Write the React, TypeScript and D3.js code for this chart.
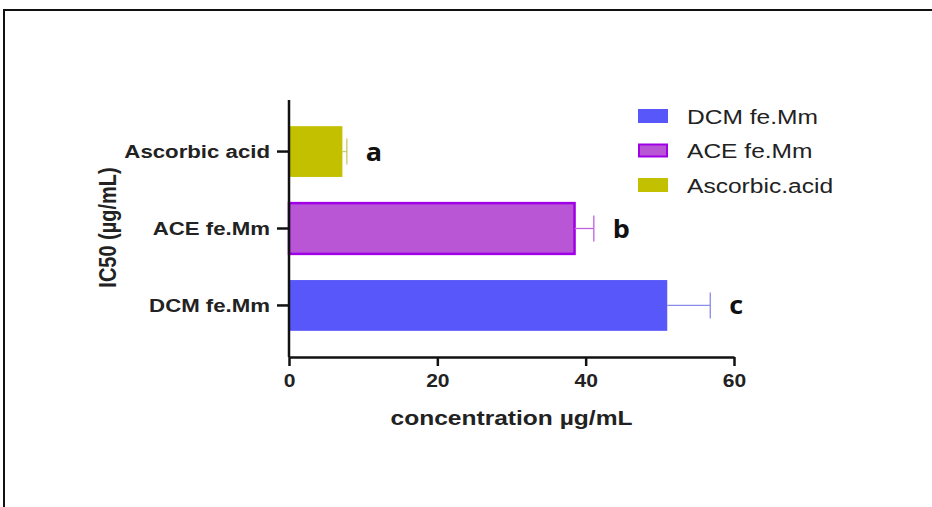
import { useEffect, useRef } from "react";
import * as d3 from "d3";

// data
const categories = ["Ascorbic acid", "ACE fe.Mm", "DCM fe.Mm"];
const ic50Values = [7.2, 38.5, 51.0];
const errorValues = [0.6, 2.6, 5.8];
const sigLetters = ["a", "b", "c"];
const fillColors = ["#c3c000", "#b956d6", "#5757fa"];
const strokeColors = ["#c3c000", "#a000e6", "#5757fa"];
const errorColors = ["#c9c86a", "#c062e0", "#8a8ae8"];
const xTicks = [0, 20, 40, 60];
const legendLabels = ["DCM fe.Mm", "ACE fe.Mm", "Ascorbic.acid"];
const legendFills = ["#5757fa", "#b956d6", "#c3c000"];
const legendStrokes = ["#5757fa", "#a000e6", "#c3c000"];

const WIDTH = 932;
const HEIGHT = 507;
const margin = { top: 100, right: 198, bottom: 150, left: 289 };
const FONT = "'Liberation Sans', Arial, sans-serif";
// the source picture is stretched sideways, so text is too
const SX = 1.17;

export default function App() {
  const svgRef = useRef<SVGSVGElement | null>(null);

  useEffect(() => {
    const svg = d3.select(svgRef.current);
    svg.selectAll("*").remove();

    const innerW = WIDTH - margin.left - margin.right;
    const innerH = HEIGHT - margin.top - margin.bottom;

    // outer frame like the screenshot
    svg
      .append("rect")
      .attr("x", 4)
      .attr("y", 10)
      .attr("width", WIDTH + 20)
      .attr("height", HEIGHT + 20)
      .attr("fill", "white")
      .attr("stroke", "#111")
      .attr("stroke-width", 2);

    const g = svg
      .append("g")
      .attr("transform", `translate(${margin.left},${margin.top})`);

    const x = d3.scaleLinear().domain([0, 60]).range([0, innerW]);
    const y = d3
      .scaleBand<string>()
      .domain(categories)
      .range([0, innerH])
      .padding(0.34);

    // bars
    g.selectAll(".bar")
      .data(categories)
      .join("rect")
      .attr("class", "bar")
      .attr("x", x(0))
      .attr("y", (d) => y(d)!)
      .attr("width", (d, i) => x(ic50Values[i]) - x(0))
      .attr("height", y.bandwidth())
      .attr("fill", (d, i) => fillColors[i])
      .attr("stroke", (d, i) => strokeColors[i])
      .attr("stroke-width", (d, i) => (i === 1 ? 2.5 : 0));

    // error bars (positive side only)
    const err = g
      .selectAll(".err")
      .data(categories)
      .join("g")
      .attr("class", "err")
      .attr("stroke", (d, i) => errorColors[i])
      .attr("stroke-width", 1.3);
    err
      .append("line")
      .attr("x1", (d, i) => x(ic50Values[i]))
      .attr("x2", (d, i) => x(ic50Values[i] + errorValues[i]))
      .attr("y1", (d) => y(d)! + y.bandwidth() / 2)
      .attr("y2", (d) => y(d)! + y.bandwidth() / 2);
    err
      .append("line")
      .attr("x1", (d, i) => x(ic50Values[i] + errorValues[i]))
      .attr("x2", (d, i) => x(ic50Values[i] + errorValues[i]))
      .attr("y1", (d) => y(d)! + y.bandwidth() / 2 - 13)
      .attr("y2", (d) => y(d)! + y.bandwidth() / 2 + 13);

    // significance letters
    g.selectAll(".sig")
      .data(categories)
      .join("text")
      .attr("class", "sig")
      .attr(
        "transform",
        (d, i) =>
          `translate(${x(ic50Values[i] + errorValues[i]) + 19},${
            y(d)! + y.bandwidth() / 2
          }) scale(1.08,1)`
      )
      .attr("dy", "0.36em")
      .attr("font-family", "'Open Sans', sans-serif")
      .attr("font-weight", "bold")
      .attr("font-size", 25)
      .attr("fill", "#111")
      .text((d, i) => sigLetters[i]);

    // x axis
    const xAxis = g
      .append("g")
      .attr("transform", `translate(0,${innerH})`)
      .call(d3.axisBottom(x).tickValues(xTicks).tickSize(9).tickSizeOuter(0));
    xAxis.select(".domain").attr("stroke", "#111").attr("stroke-width", 2.5);
    xAxis.selectAll(".tick line").attr("stroke", "#111").attr("stroke-width", 2.5);
    xAxis
      .selectAll(".tick text")
      .attr("font-family", FONT)
      .attr("font-size", 18)
      .attr("font-weight", "bold")
      .attr("fill", "#222")
      .attr("y", 17)
      .attr("transform", `scale(${SX},1)`);

    // y axis
    const yAxis = g
      .append("g")
      .call(d3.axisLeft(y).tickSize(12).tickSizeOuter(0));
    yAxis
      .select(".domain")
      .attr("stroke", "#111")
      .attr("stroke-width", 2.5)
      .attr("d", `M0,0V${innerH}`);
    yAxis.selectAll(".tick line").attr("stroke", "#111").attr("stroke-width", 2.5);
    yAxis
      .selectAll(".tick text")
      .attr("font-family", FONT)
      .attr("font-size", 19)
      .attr("font-weight", "bold")
      .attr("fill", "#222")
      .attr("x", -19 / SX)
      .attr("dy", "0.35em")
      .attr("transform", `scale(${SX},1)`);

    // axis titles
    g.append("text")
      .attr("transform", `translate(${innerW / 2},${innerH + 68}) scale(${SX},1)`)
      .attr("text-anchor", "middle")
      .attr("font-family", FONT)
      .attr("font-size", 21)
      .attr("font-weight", "bold")
      .attr("fill", "#222")
      .text("concentration µg/mL");

    g.append("text")
      .attr(
        "transform",
        `translate(-181,${innerH / 2 - 1}) rotate(-90) scale(1,${SX})`
      )
      .attr("text-anchor", "middle")
      .attr("dy", "0.35em")
      .attr("font-family", FONT)
      .attr("font-size", 20)
      .attr("font-weight", "bold")
      .attr("fill", "#222")
      .text("IC50 (µg/mL)");

    // legend
    const legend = svg
      .append("g")
      .attr("transform", "translate(638,109)");
    const item = legend
      .selectAll(".leg")
      .data(legendLabels)
      .join("g")
      .attr("class", "leg")
      .attr("transform", (d, i) => `translate(0,${i * 34.5})`);
    item
      .append("rect")
      .attr("x", 1)
      .attr("y", 1)
      .attr("width", 28)
      .attr("height", 12)
      .attr("fill", (d, i) => legendFills[i])
      .attr("stroke", (d, i) => legendStrokes[i])
      .attr("stroke-width", 2);
    item
      .append("text")
      .attr("transform", `translate(49,7.5) scale(${SX},1)`)
      .attr("dy", "0.35em")
      .attr("font-family", FONT)
      .attr("font-size", 21)
      .attr("fill", "#222")
      .text((d) => d);
  }, []);

  return (
    <svg
      ref={svgRef}
      width={WIDTH}
      height={HEIGHT}
      style={{ position: "absolute", left: 0, top: 0, background: "white" }}
    />
  );
}
